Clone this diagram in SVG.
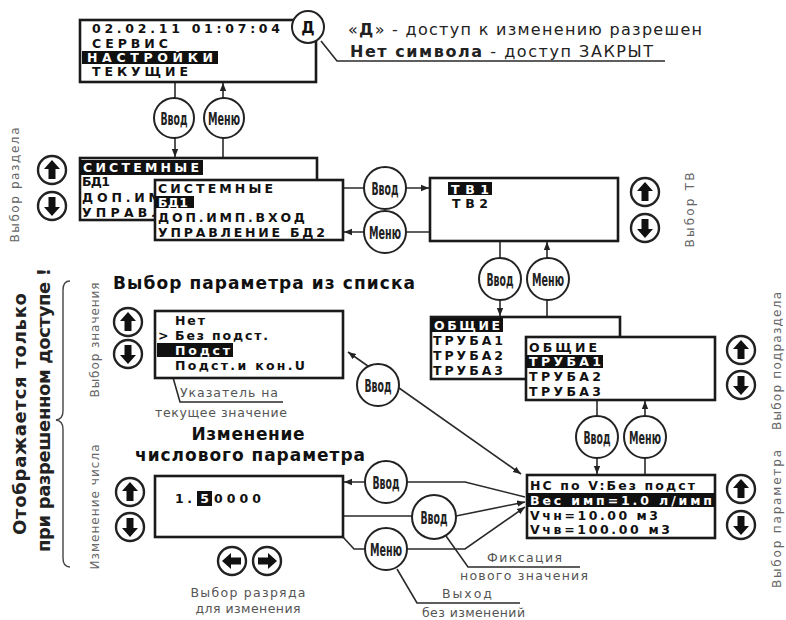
<svg xmlns="http://www.w3.org/2000/svg" width="786" height="620" viewBox="0 0 786 620">
<style>
.box{fill:#fff;stroke:#1a1a1a;stroke-width:2.6}
.scr{font-family:"DejaVu Sans",sans-serif;font-weight:bold;font-size:12.5px;fill:#111}
.inv{fill:#fff}
.hl{fill:#111}
.btn{fill:#fff;stroke:#222;stroke-width:2}
.bt{font-family:"DejaVu Sans Condensed","DejaVu Sans",sans-serif;font-weight:bold;font-size:18px;fill:#222;text-anchor:middle}
.con{fill:none;stroke:#2a2a2a;stroke-width:1.6}
.lbl{font-family:"DejaVu Sans",sans-serif;font-size:12.5px;fill:#555}
.mid{text-anchor:middle}
.vl{font-family:"DejaVu Sans",sans-serif;font-size:12px;fill:#666;text-anchor:middle}
.ttl{font-family:"DejaVu Sans",sans-serif;font-weight:bold;font-size:17px;fill:#111}
.big{font-family:"DejaVu Sans",sans-serif;font-weight:bold;font-size:18px;fill:#222;text-anchor:middle}
.note{font-family:"DejaVu Sans",sans-serif;font-size:16px;fill:#222}
</style>
<defs>
<marker id="ah" viewBox="0 0 10 10" refX="10" refY="5" markerWidth="8" markerHeight="8" markerUnits="userSpaceOnUse" orient="auto-start-reverse"><path d="M0,1 L10,5 L0,9 z" fill="#222"/></marker>
<g id="upkey"><circle r="14" fill="#fff" stroke="#222" stroke-width="2.4"/><path d="M0,-10 L8,-1 L3.5,-1 L3.5,9 L-3.5,9 L-3.5,-1 L-8,-1 Z" fill="#111"/></g>
</defs>
<rect x="0" y="0" width="786" height="620" fill="#fff"/>

<g id="connectors">
<path class="con" d="M175 82 L175 157" marker-end="url(#ah)"/>
<path class="con" d="M223 158 L223 83" marker-end="url(#ah)"/>
<path class="con" d="M343 188 L429 188" marker-end="url(#ah)"/>
<path class="con" d="M430 232 L344 232" marker-end="url(#ah)"/>
<path class="con" d="M500 241 L500 316" marker-end="url(#ah)"/>
<path class="con" d="M547 317 L547 242" marker-end="url(#ah)"/>
<path class="con" d="M597 400 L597 474" marker-end="url(#ah)"/>
<path class="con" d="M645 475 L645 401" marker-end="url(#ah)"/>
<path class="con" d="M348 352 L521 474" marker-start="url(#ah)" marker-end="url(#ah)"/>
<path class="con" d="M525 497 L465 482 L344 482" marker-end="url(#ah)"/>
<path class="con" d="M343 516 L456 516 L525 502" marker-end="url(#ah)"/>
<path class="con" d="M343 537 L354 549 L465 549 L525 507" marker-end="url(#ah)"/>
<path class="con" d="M321 41 L337 61 L665 61"/>
<path class="con" d="M172 374 L180 402 L283 402" stroke="#666" stroke-width="1.2"/>
<path class="con" d="M446 536 L468 567 L580 567" stroke="#666" stroke-width="1.2"/>
<path class="con" d="M397 569 L417 603 L520 603" stroke="#666" stroke-width="1.2"/>
</g>

<g id="screen-main">
<rect class="box" x="80" y="20" width="236" height="62"/>
<text class="scr" x="92" y="33" textLength="188" lengthAdjust="spacing">02.02.11 01:07:04</text>
<text class="scr" x="92" y="47.5" textLength="76" lengthAdjust="spacing">СЕРВИС</text>
<rect class="hl" x="82" y="51" width="136" height="13"/>
<text class="scr inv" x="87" y="62" textLength="126" lengthAdjust="spacing">НАСТРОЙКИ</text>
<text class="scr" x="92" y="76" textLength="96" lengthAdjust="spacing">ТЕКУЩИЕ</text>
</g>

<g id="access-flag">
<circle class="btn" cx="308" cy="27" r="16"/>
<text x="308" y="33" text-anchor="middle" font-family="DejaVu Sans, sans-serif" font-weight="bold" font-size="15" fill="#111">Д</text>
</g>

<g id="access-note">
<text class="note" x="348" y="35" textLength="354" lengthAdjust="spacing">«<tspan font-weight="bold">Д</tspan>» - доступ к изменению разрешен</text>
<text class="note" x="350" y="57" textLength="303" lengthAdjust="spacing"><tspan font-weight="bold">Нет символа</tspan> - доступ ЗАКРЫТ</text>
</g>

<g id="btn-top-enter"><circle class="btn" cx="174" cy="118" r="20"/><text class="bt" x="174" y="124.5" textLength="27" lengthAdjust="spacingAndGlyphs">Ввод</text></g>
<g id="btn-top-menu"><circle class="btn" cx="224" cy="118" r="20"/><text class="bt" x="224" y="124.5" textLength="32" lengthAdjust="spacingAndGlyphs">Меню</text></g>

<g id="screen-sections-a">
<rect class="box" x="80" y="158" width="237" height="62"/>
<rect class="hl" x="80" y="160" width="123" height="15"/>
<text class="scr inv" x="83" y="172" textLength="116" lengthAdjust="spacing">СИСТЕМНЫЕ</text>
<text class="scr" x="82" y="186" textLength="28" lengthAdjust="spacing">БД1</text>
<text class="scr" x="82" y="202" textLength="79" lengthAdjust="spacing">ДОП.ИМ</text>
<text class="scr" x="82" y="217" textLength="80" lengthAdjust="spacing">УПРАВЛ</text>
</g>

<g id="screen-sections-b">
<rect class="box" x="155" y="180" width="188" height="60"/>
<text class="scr" x="158" y="193" textLength="115" lengthAdjust="spacing">СИСТЕМНЫЕ</text>
<rect class="hl" x="155" y="196" width="39" height="12"/>
<text class="scr inv" x="158" y="207" textLength="30" lengthAdjust="spacing">БД1</text>
<text class="scr" x="158" y="222" textLength="147" lengthAdjust="spacing">ДОП.ИМП.ВХОД</text>
<text class="scr" x="158" y="237" textLength="167" lengthAdjust="spacing">УПРАВЛЕНИЕ БД2</text>
</g>

<g id="keys-sections">
<use href="#upkey" transform="translate(52,170)"/>
<use href="#upkey" transform="translate(52,206) rotate(180)"/>
<text class="vl" transform="translate(19,185) rotate(-90)" textLength="115" lengthAdjust="spacing">Выбор раздела</text>
</g>

<g id="btn-tv-enter"><circle class="btn" cx="385" cy="188" r="21"/><text class="bt" x="385" y="194.5" textLength="27" lengthAdjust="spacingAndGlyphs">Ввод</text></g>
<g id="btn-tv-menu"><circle class="btn" cx="385" cy="232" r="21"/><text class="bt" x="385" y="238.5" textLength="32" lengthAdjust="spacingAndGlyphs">Меню</text></g>

<g id="screen-tv">
<rect class="box" x="430" y="178" width="188" height="63"/>
<rect class="hl" x="448" y="182" width="44" height="13"/>
<text class="scr inv" x="451" y="193.5" textLength="38" lengthAdjust="spacing">ТВ1</text>
<text class="scr" x="452" y="208" textLength="36" lengthAdjust="spacing">ТВ2</text>
</g>

<g id="keys-tv">
<use href="#upkey" transform="translate(645,192)"/>
<use href="#upkey" transform="translate(645,228) rotate(180)"/>
<text class="vl" transform="translate(694,210) rotate(-90)" textLength="75" lengthAdjust="spacing">Выбор ТВ</text>
</g>

<g id="btn-sub-enter"><circle class="btn" cx="500" cy="279" r="21"/><text class="bt" x="500" y="285.5" textLength="27" lengthAdjust="spacingAndGlyphs">Ввод</text></g>
<g id="btn-sub-menu"><circle class="btn" cx="548" cy="279" r="21"/><text class="bt" x="548" y="285.5" textLength="32" lengthAdjust="spacingAndGlyphs">Меню</text></g>

<g id="screen-sub-a">
<rect class="box" x="431" y="317" width="189" height="62"/>
<rect class="hl" x="431" y="318" width="72" height="14"/>
<text class="scr inv" x="434" y="330" textLength="66" lengthAdjust="spacing">ОБЩИЕ</text>
<text class="scr" x="433" y="345" textLength="70" lengthAdjust="spacing">ТРУБА1</text>
<text class="scr" x="433" y="360" textLength="70" lengthAdjust="spacing">ТРУБА2</text>
<text class="scr" x="433" y="375" textLength="70" lengthAdjust="spacing">ТРУБА3</text>
</g>

<g id="screen-sub-b">
<rect class="box" x="526" y="337" width="189" height="63"/>
<text class="scr" x="529" y="352" textLength="68" lengthAdjust="spacing">ОБЩИЕ</text>
<rect class="hl" x="526" y="355" width="77" height="13"/>
<text class="scr inv" x="529" y="366" textLength="72" lengthAdjust="spacing">ТРУБА1</text>
<text class="scr" x="529" y="381" textLength="72" lengthAdjust="spacing">ТРУБА2</text>
<text class="scr" x="529" y="396" textLength="72" lengthAdjust="spacing">ТРУБА3</text>
</g>

<g id="keys-sub">
<use href="#upkey" transform="translate(741,350)"/>
<use href="#upkey" transform="translate(741,385) rotate(180)"/>
<text class="vl" transform="translate(781,361) rotate(-90)" textLength="138" lengthAdjust="spacing">Выбор подраздела</text>
</g>

<g id="btn-par-enter"><circle class="btn" cx="597" cy="437" r="21"/><text class="bt" x="597" y="443.5" textLength="27" lengthAdjust="spacingAndGlyphs">Ввод</text></g>
<g id="btn-par-menu"><circle class="btn" cx="645" cy="437" r="21"/><text class="bt" x="645" y="443.5" textLength="32" lengthAdjust="spacingAndGlyphs">Меню</text></g>

<g id="screen-params">
<rect class="box" x="527" y="475" width="188" height="63"/>
<text class="scr" x="530" y="490" textLength="165" lengthAdjust="spacing">НС по V:Без подст</text>
<rect class="hl" x="527" y="493" width="188" height="14"/>
<text class="scr inv" x="530" y="505" textLength="182" lengthAdjust="spacing">Вес имп=1.0 л/имп</text>
<text class="scr" x="530" y="520" textLength="128" lengthAdjust="spacing">Vчн=10.00 м3</text>
<text class="scr" x="530" y="534" textLength="140" lengthAdjust="spacing">Vчв=100.00 м3</text>
</g>

<g id="keys-params">
<use href="#upkey" transform="translate(741,489)"/>
<use href="#upkey" transform="translate(741,525) rotate(180)"/>
<text class="vl" transform="translate(781,519) rotate(-90)" textLength="138" lengthAdjust="spacing">Выбор параметра</text>
</g>

<g id="access-only-note">
<text class="big" transform="translate(26,414) rotate(-90)" textLength="242" lengthAdjust="spacing">Отображается только</text>
<text class="big" transform="translate(50,410) rotate(-90)" textLength="284" lengthAdjust="spacing">при разрешенном доступе !</text>
<path d="M70 281 Q63 281 63 290 L63 411 Q63 419 56 420 Q63 421 63 429 L63 558 Q63 567 70 567" fill="none" stroke="#444" stroke-width="1.4"/>
</g>

<g id="list-title">
<text class="ttl" x="113" y="289" textLength="302" lengthAdjust="spacing">Выбор параметра из списка</text>
</g>

<g id="screen-list">
<rect class="box" x="155" y="311" width="188" height="67"/>
<text class="scr" x="175" y="325" textLength="30" lengthAdjust="spacing">Нет</text>
<text class="scr" x="158" y="340">&gt;</text>
<text class="scr" x="175" y="340" textLength="93" lengthAdjust="spacing">Без подст.</text>
<rect class="hl" x="157" y="343" width="76" height="14"/>
<text class="scr inv" x="175" y="355" textLength="55" lengthAdjust="spacing">Подст</text>
<text class="scr" x="175" y="370" textLength="130" lengthAdjust="spacing">Подст.и кон.U</text>
</g>

<g id="keys-list">
<use href="#upkey" transform="translate(128,322)"/>
<use href="#upkey" transform="translate(128,354) rotate(180)"/>
<text class="vl" transform="translate(99,340) rotate(-90)" textLength="115" lengthAdjust="spacing">Выбор значения</text>
</g>

<g id="pointer-note">
<text class="lbl" x="180" y="397" textLength="98" lengthAdjust="spacing">Указатель на</text>
<text class="lbl" x="155" y="417" textLength="132" lengthAdjust="spacing">текущее значение</text>
</g>

<g id="btn-list-enter"><circle class="btn" cx="378" cy="385" r="21"/><text class="bt" x="378" y="391.5" textLength="27" lengthAdjust="spacingAndGlyphs">Ввод</text></g>

<g id="number-title">
<text class="ttl mid" x="248" y="440" textLength="113" lengthAdjust="spacing">Изменение</text>
<text class="ttl mid" x="250" y="461" textLength="230" lengthAdjust="spacing">числового параметра</text>
</g>

<g id="screen-number">
<rect class="box" x="155" y="476" width="188" height="61"/>
<text class="scr" x="175" y="503" textLength="17" lengthAdjust="spacing">1.</text>
<rect class="hl" x="197" y="491" width="15" height="15"/>
<text class="scr inv" x="204.5" y="503" text-anchor="middle">5</text>
<text class="scr" x="214" y="503" textLength="47" lengthAdjust="spacing">0000</text>
</g>

<g id="keys-number">
<use href="#upkey" transform="translate(130,492)"/>
<use href="#upkey" transform="translate(130,527) rotate(180)"/>
<text class="vl" transform="translate(99,507) rotate(-90)" textLength="125" lengthAdjust="spacing">Изменение числа</text>
<use href="#upkey" transform="translate(232,561) rotate(-90)"/>
<use href="#upkey" transform="translate(267,561) rotate(90)"/>
<text class="lbl mid" x="248" y="597" textLength="115" lengthAdjust="spacing">Выбор разряда</text>
<text class="lbl mid" x="248" y="613" textLength="105" lengthAdjust="spacing">для изменения</text>
</g>

<g id="btn-num-enter"><circle class="btn" cx="386" cy="482" r="21"/><text class="bt" x="386" y="488.5" textLength="27" lengthAdjust="spacingAndGlyphs">Ввод</text></g>
<g id="btn-num-fix"><circle class="btn" cx="434" cy="517" r="22"/><text class="bt" x="434" y="523.5" textLength="27" lengthAdjust="spacingAndGlyphs">Ввод</text></g>
<g id="btn-num-menu"><circle class="btn" cx="386" cy="549" r="21"/><text class="bt" x="386" y="555.5" textLength="32" lengthAdjust="spacingAndGlyphs">Меню</text></g>

<g id="fix-note">
<text class="lbl" x="487" y="562" textLength="75" lengthAdjust="spacing">Фиксация</text>
<text class="lbl" x="460" y="580" textLength="128" lengthAdjust="spacing">нового значения</text>
</g>
<g id="exit-note">
<text class="lbl" x="442" y="598" textLength="50" lengthAdjust="spacing">Выход</text>
<text class="lbl" x="422" y="617" textLength="103" lengthAdjust="spacing">без изменений</text>
</g>
</svg>
